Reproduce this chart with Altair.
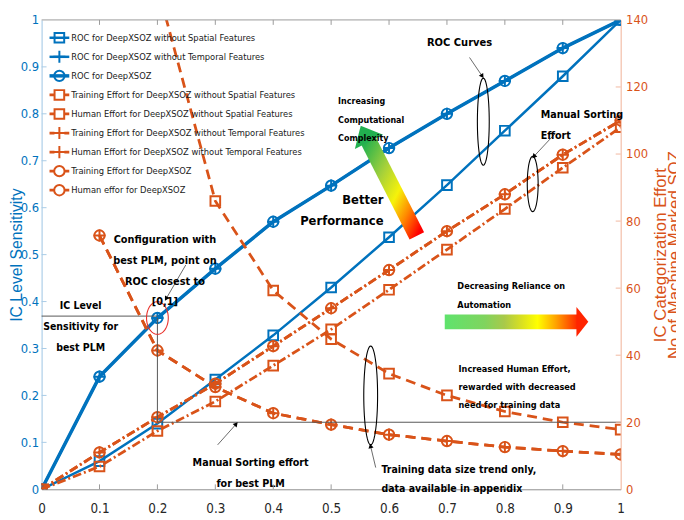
import math
import altair as alt
import pandas as pd

# ------------------------------------------------------------------ data
fpr = [0.0, 0.1, 0.2, 0.3, 0.4, 0.5, 0.6, 0.7, 0.8, 0.9, 1.0]

roc_no_spatial = [0.0, 0.06, 0.14, 0.234, 0.328, 0.43, 0.537, 0.648, 0.764, 0.88, 1.0]
roc_no_temporal = [0.0, 0.24, 0.365, 0.47, 0.57, 0.647, 0.727, 0.80, 0.87, 0.94, 1.0]
roc_deepxsoz = [0.0, 0.24, 0.365, 0.47, 0.57, 0.647, 0.727, 0.80, 0.87, 0.94, 1.0]

train_no_spatial = [None, None, 150, 86, 59.3, 44.8, 34.5, 28, 23.2, 20, 17.8]
human_no_spatial = [0, 6.8, 17.4, 26.2, 36.9, 47.7, 59.5, 71.5, 83.6, 95.9, 108]
train_no_temporal = [None, 75.7, 41.4, 30.5, 22.7, 19.3, 16.3, 14.4, 12.6, 11.4, 10.4]
human_no_temporal = [0, 11, 21.5, 31.5, 42.7, 54, 65.4, 77, 88, 99.8, 110]
train_deepxsoz = [None, 75.7, 41.4, 30.5, 22.7, 19.3, 16.3, 14.4, 12.6, 11.4, 10.4]
human_deepxsoz = [0, 11, 21.5, 31.5, 42.7, 54, 65.4, 77, 88, 99.8, 110]

legend_labels = [
    "ROC for DeepXSOZ without Spatial Features",
    "ROC for DeepXSOZ without Temporal Features",
    "ROC for DeepXSOZ",
    "Training Effort for DeepXSOZ without Spatial Features",
    "Human Effort for DeepXSOZ without Spatial Features",
    "Training Effort for DeepXSOZ without Temporal Features",
    "Human Effort for DeepXSOZ without Temporal Features",
    "Training Effort for DeepXSOZ",
    "Human effor for DeepXSOZ",
]
series_values = [roc_no_spatial, roc_no_temporal, roc_deepxsoz,
                 train_no_spatial, human_no_spatial,
                 train_no_temporal, human_no_temporal,
                 train_deepxsoz, human_deepxsoz]

sens_ticks = [0, 0.1, 0.2, 0.3, 0.4, 0.5, 0.6, 0.7, 0.8, 0.9, 1.0]
effort_ticks = [0, 20, 40, 60, 80, 100, 120, 140]
x_ticks = [0, 0.1, 0.2, 0.3, 0.4, 0.5, 0.6, 0.7, 0.8, 0.9, 1.0]

best_fpr = 0.2
best_sens = 0.365
best_effort = 20

# ------------------------------------------------------------------ style
W, H = 586, 475
EFFORT_MAX = 140.0
BLUE, ORANGE = "#0072BD", "#D95319"
NARROW = "DejaVu Sans Condensed, DejaVu Sans, sans-serif"
REG = "Liberation Sans, Arial, sans-serif"
PLUS = "M-1,0L1,0M0,-1L0,1"
DASH = [10, 6]
DASHDOT = [9, 3, 2, 3]

styles = [
    dict(axis="left", color=BLUE, width=2.5, dash=None, shape="square", size=95),
    dict(axis="left", color=BLUE, width=2.5, dash=None, shape=PLUS, size=150),
    dict(axis="left", color=BLUE, width=3.5, dash=None, shape="circle", size=110),
    dict(axis="right", color=ORANGE, width=2.8, dash=DASH, shape="square", size=95),
    dict(axis="right", color=ORANGE, width=2.8, dash=DASHDOT, shape="square", size=95),
    dict(axis="right", color=ORANGE, width=2.8, dash=DASH, shape=PLUS, size=150),
    dict(axis="right", color=ORANGE, width=2.8, dash=DASHDOT, shape=PLUS, size=150),
    dict(axis="right", color=ORANGE, width=2.8, dash=DASH, shape="circle", size=110),
    dict(axis="right", color=ORANGE, width=2.8, dash=DASHDOT, shape="circle", size=110),
]

xs = alt.Scale(domain=[0, 1], nice=False, zero=False)
ys = alt.Scale(domain=[0, 1], nice=False, zero=False)
X = lambda f: alt.X(f, type="quantitative", scale=xs, axis=None)
Y = lambda f: alt.Y(f, type="quantitative", scale=ys, axis=None)

layers = []

# ------------------------------------------------------------------ series
for vals, st in zip(series_values, styles):
    div = 1.0 if st["axis"] == "left" else EFFORT_MAX
    df = pd.DataFrame({"x": fpr, "v": vals}).dropna()
    df["y"] = df["v"] / div
    base = alt.Chart(df).encode(x=X("x"), y=Y("y"))
    lk = dict(color=st["color"], strokeWidth=st["width"], clip=True)
    if st["dash"]:
        lk["strokeDash"] = st["dash"]
    layers.append(base.mark_line(**lk))
    layers.append(base.mark_point(shape=st["shape"], size=st["size"], color=st["color"],
                                  strokeWidth=2, filled=False, opacity=1, clip=True))

# ------------------------------------------------------------------ reference lines
ref = pd.DataFrame({
    "x": [0.0, best_fpr, best_fpr],
    "x2": [best_fpr, best_fpr, 1.0],
    "y": [best_sens + 0.004, best_sens, best_effort / EFFORT_MAX],
    "y2": [best_sens + 0.004, best_effort / EFFORT_MAX, best_effort / EFFORT_MAX],
})
layers.append(alt.Chart(ref).mark_rule(color="#555555", strokeWidth=1).encode(
    x=X("x"), x2="x2", y=Y("y"), y2="y2"))


def ellipse_path(rx, ry, n=60):
    a = rx / ry
    pts = [(a * math.cos(2 * math.pi * k / n), math.sin(2 * math.pi * k / n)) for k in range(n)]
    return "M" + "L".join(f"{px:.4f},{py:.4f}" for px, py in pts) + "Z"


# ellipses: (x, y, rx_px, ry_px, colour)
ellipses = [
    (best_fpr, best_sens, 11, 16.5, "#e8302a"),
    (0.7628, 0.7832, 6, 44, "black"),
    (0.8481, 0.6505, 5.5, 28, "black"),
    (0.5683, 0.2000, 7, 50, "black"),
]
for ex, ey, rx, ry, col in ellipses:
    layers.append(alt.Chart(pd.DataFrame({"x": [ex], "y": [ey]})).mark_point(
        shape=ellipse_path(rx, ry), size=(2 * ry) ** 2, filled=False, color=col,
        strokeWidth=1.1, opacity=1).encode(x=X("x"), y=Y("y")))

# ------------------------------------------------------------------ thin arrows
arrows = [
    (0.739, 0.920, 0.761, 0.880),
    (0.887, 0.758, 0.850, 0.709),
    (0.249, 0.478, 0.215, 0.406),
    (0.304, 0.0947, 0.336, 0.139),
    (0.577, 0.0463, 0.568, 0.0926),
]
for x1, y1, x2, y2 in arrows:
    df = pd.DataFrame({"x": [x1], "y": [y1], "x2": [x2], "y2": [y2]})
    layers.append(alt.Chart(df).mark_rule(color="#444444", strokeWidth=0.8).encode(
        x=X("x"), y=Y("y"), x2="x2", y2="y2"))
    dxp, dyp = (x2 - x1) * W, -(y2 - y1) * H
    ang = math.degrees(math.atan2(dxp, -dyp)) % 360
    layers.append(alt.Chart(pd.DataFrame({"x": [x2], "y": [y2]})).mark_point(
        shape="triangle-up", size=28, filled=True, color="black", opacity=1, angle=ang
    ).encode(x=X("x"), y=Y("y")))

# ------------------------------------------------------------------ gradient arrows
diag = pd.DataFrame({"x": [0.648, 0.5635], "y": [0.540, 0.7446], "o": [0, 1]})
layers.append(alt.Chart(diag).mark_line(
    strokeWidth=16.5, strokeCap="butt",
    stroke=alt.LinearGradient(gradient="linear", x1=1, y1=1, x2=0, y2=0, stops=[
        alt.GradientStop(color="#ff0000", offset=0),
        alt.GradientStop(color="#ff8a00", offset=0.22),
        alt.GradientStop(color="#f6f20a", offset=0.42),
        alt.GradientStop(color="#a6d13a", offset=0.68),
        alt.GradientStop(color="#2ab34d", offset=1),
    ])).encode(x=X("x"), y=Y("y"), order="o:Q"))
layers.append(alt.Chart(pd.DataFrame({"x": [0.5635], "y": [0.7446]})).mark_point(
    shape="M0,-1L1,0.15L-1,0.15Z", size=32 * 32, filled=True, color="#22b04f",
    opacity=1, angle=333).encode(x=X("x"), y=Y("y")))

horiz = pd.DataFrame({"x": [0.6962], "x2": [0.9249], "y": [0.3726], "y2": [0.3411]})
layers.append(alt.Chart(horiz).mark_rect(
    fill=alt.LinearGradient(gradient="linear", x1=0, y1=0, x2=1, y2=0, stops=[
        alt.GradientStop(color="#5fe36d", offset=0),
        alt.GradientStop(color="#7fd45e", offset=0.3),
        alt.GradientStop(color="#a9c94a", offset=0.45),
        alt.GradientStop(color="#d9e021", offset=0.58),
        alt.GradientStop(color="#ffff00", offset=0.7),
        alt.GradientStop(color="#ffa200", offset=0.84),
        alt.GradientStop(color="#ff2a00", offset=1),
    ])).encode(x=X("x"), x2="x2", y=Y("y"), y2="y2"))
layers.append(alt.Chart(pd.DataFrame({"x": [0.9334], "y": [0.3568]})).mark_point(
    shape="M-0.38,-1L0.42,0L-0.38,1Z", size=30 * 30, filled=True, color="#ff2400",
    opacity=1).encode(x=X("x"), y=Y("y")))

# ------------------------------------------------------------------ annotation text
texts = [
    ("Configuration with\nbest PLM, point on\nROC closest to\n[0,1]", 0.213, 0.531, "center", 11, 21),
    ("IC Level\nSensitivity for\nbest PLM", 0.0674, 0.3905, "center", 10.6, 21.5),
    ("Manual Sorting effort\nfor best PLM", 0.361, 0.0568, "center", 10.8, 22),
    ("ROC Curves", 0.7218, 0.9516, "center", 11.2, 20),
    ("Manual Sorting\nEffort", 0.8618, 0.7968, "left", 10.8, 21),
    ("Increasing\nComputational\nComplexity", 0.512, 0.8274, "left", 9, 19),
    ("Better\nPerformance", 0.5904, 0.6168, "right", 13, 22),
    ("Decreasing Reliance on\nAutomation", 0.718, 0.4326, "left", 9.2, 19),
    ("Increased Human Effort,\nrewarded with decreased\nneed for training data", 0.720, 0.2568, "left", 9.2, 18.5),
    ("Training data size trend only,\ndata available in appendix", 0.587, 0.0421, "left", 10.6, 20),
]
for t, tx, ty, al, fs, lh in texts:
    layers.append(alt.Chart(pd.DataFrame({"x": [tx], "y": [ty], "t": [t]})).mark_text(
        align=al, baseline="middle", font=NARROW, fontSize=fs, fontWeight="bold",
        lineBreak="\n", lineHeight=lh, color="black").encode(x=X("x"), y=Y("y"), text="t:N"))

# ------------------------------------------------------------------ legend
LEG_TOP, LEG_STEP = 0.962, 0.0406
LEG_X0, LEG_X1, LEG_XM, LEG_XT = 0.0137, 0.0478, 0.0307, 0.0512
for i, (lab, st) in enumerate(zip(legend_labels, styles)):
    ly = LEG_TOP - i * LEG_STEP
    seg = pd.DataFrame({"x": [LEG_X0], "x2": [LEG_X1], "y": [ly]})
    rk = dict(color=st["color"], strokeWidth=st["width"])
    if st["dash"]:
        rk["strokeDash"] = [5, 10]
    layers.append(alt.Chart(seg).mark_rule(**rk).encode(x=X("x"), x2="x2", y=Y("y")))
    layers.append(alt.Chart(pd.DataFrame({"x": [LEG_XM], "y": [ly]})).mark_point(
        shape=st["shape"], size=st["size"], color=st["color"], strokeWidth=2,
        filled=False, opacity=1).encode(x=X("x"), y=Y("y")))
    layers.append(alt.Chart(pd.DataFrame({"x": [LEG_XT], "y": [ly], "t": [lab]})).mark_text(
        align="left", baseline="middle", font=NARROW, fontSize=9.4, color="#1a1a1a"
    ).encode(x=X("x"), y=Y("y"), text="t:N"))

# ------------------------------------------------------------------ frame and inward ticks
layers.append(alt.Chart(pd.DataFrame({"a": [0]})).mark_rule(color="#9a9a9a", strokeWidth=1).encode(
    x=alt.value(0), x2=alt.value(W), y=alt.value(0)))
xt = pd.DataFrame({"x": x_ticks[1:-1]})
layers.append(alt.Chart(xt).mark_rule(color="#9a9a9a").encode(x=X("x"), y=alt.value(H), y2=alt.value(H - 5)))
layers.append(alt.Chart(xt).mark_rule(color="#9a9a9a").encode(x=X("x"), y=alt.value(0), y2=alt.value(5)))
lt = pd.DataFrame({"y": sens_ticks[1:-1]})
layers.append(alt.Chart(lt).mark_rule(color="#a9cbe6").encode(y=Y("y"), x=alt.value(0), x2=alt.value(5)))
rt = pd.DataFrame({"y": [e / EFFORT_MAX for e in effort_ticks[1:-1]]})
layers.append(alt.Chart(rt).mark_rule(color="#f2b8a0").encode(y=Y("y"), x=alt.value(W), x2=alt.value(W - 5)))

main = alt.layer(*layers)

# ------------------------------------------------------------------ axes (own groups)
bottom = alt.Chart(pd.DataFrame({"t": x_ticks})).mark_rule(opacity=0).encode(
    x=alt.X("t:Q", scale=alt.Scale(domain=[0, 1], nice=False, zero=False),
            axis=alt.Axis(orient="bottom", values=x_ticks, format="~g", title=None,
                          grid=False, tickSize=0, labelPadding=12, labelFont=NARROW,
                          labelFontSize=13.5, labelColor="#262626", domainColor="#8c8c8c",
                          labelFlush=False)))

left = alt.Chart(pd.DataFrame({"s": sens_ticks})).mark_rule(opacity=0).encode(
    y=alt.Y("s:Q", scale=alt.Scale(domain=[0, 1], nice=False, zero=False),
            axis=alt.Axis(orient="left", values=sens_ticks, format="~g", grid=False,
                          tickSize=0, labelPadding=3, labelFont=NARROW, labelFontSize=13,
                          labelColor=BLUE, domainColor="#9cc5e5", labelFlush=False,
                          title="IC Level Sensitivity", titleFont=REG, titleFontSize=16,
                          titleFontWeight="normal", titleColor=BLUE, titleAngle=270,
                          titleX=-25, titleY=H / 2, titleAlign="center",
                          titleBaseline="middle")))

right = alt.Chart(pd.DataFrame({"e": effort_ticks})).mark_rule(opacity=0).encode(
    y=alt.Y("e:Q", scale=alt.Scale(domain=[0, EFFORT_MAX], nice=False, zero=False),
            axis=alt.Axis(orient="right", values=effort_ticks, grid=False, tickSize=0,
                          labelPadding=5, labelFont=NARROW, labelFontSize=13,
                          labelColor=ORANGE, domainColor="#f0b096", labelFlush=False,
                          title=["IC Categorization Effort", "No of Machine Marked SOZ"],
                          titleFont=REG, titleFontSize=17, titleFontWeight="normal",
                          titleColor=ORANGE, titleAngle=270, titleX=40, titleY=H / 2,
                          titleAlign="center", titleBaseline="middle", titleLineHeight=15)))

chart = alt.layer(main, bottom, left, right).resolve_scale(
    x="independent", y="independent").properties(
    width=W, height=H,
    padding={"left": 34, "top": 9, "right": 56, "bottom": 28},
    autosize=alt.AutoSizeParams(type="none"),
    background="white",
).configure_view(stroke=None)

chart.save("out.html", embed_options={"renderer": "svg", "actions": False})
